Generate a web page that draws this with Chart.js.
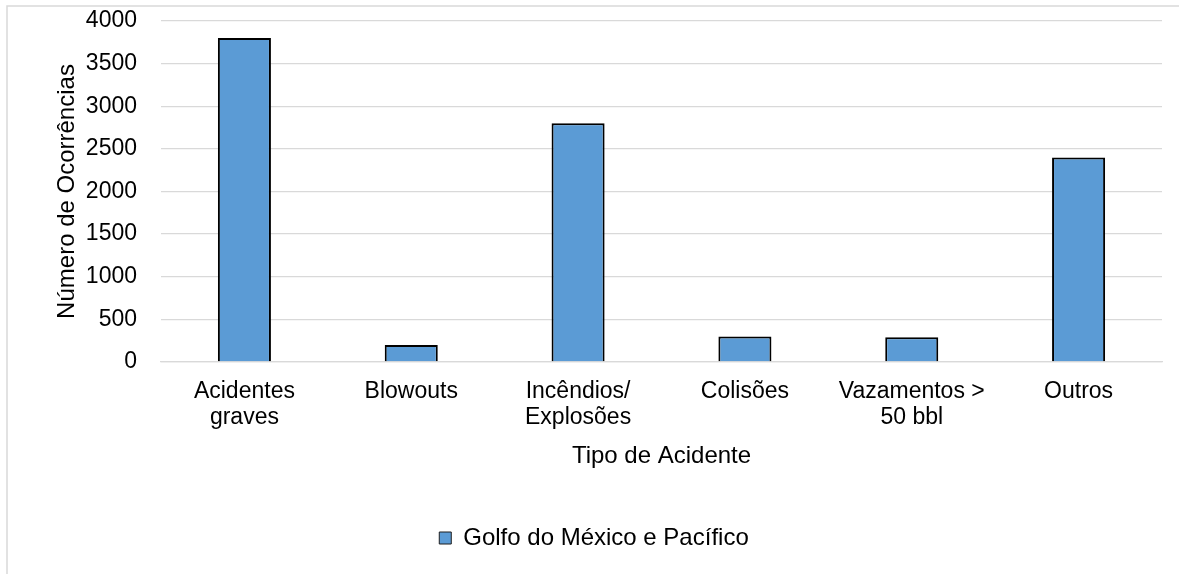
<!DOCTYPE html>
<html>
<head>
<meta charset="utf-8">
<style>
  html, body { margin: 0; padding: 0; background: #ffffff; }
  #wrap { width: 1179px; height: 574px; position: relative; }
</style>
<script src="https://cdn.jsdelivr.net/npm/chart.js@4/dist/chart.umd.min.js"></script>
</head>
<body>
<div id="wrap"><canvas id="chart" width="1179" height="574"></canvas></div>
<script>
// Accident categories (multi-line labels) and occurrence counts
const categories = [
  ["Acidentes", "graves"],
  ["Blowouts"],
  ["Incêndios/", "Explosões"],
  ["Colisões"],
  ["Vazamentos >", "50 bbl"],
  ["Outros"]
];
const seriesName = "Golfo do México e Pacífico";
const occurrences = [3800, 200, 2800, 300, 290, 2400];
const yTicks = [0, 500, 1000, 1500, 2000, 2500, 3000, 3500, 4000];

const FONT = "'Liberation Sans', Arial, sans-serif";
const TEXT = "#000000";
const GRID = "#d9d9d9";

// Thin light frame around the whole chart
const framePlugin = {
  id: "frame",
  beforeDraw(chart) {
    const ctx = chart.ctx;
    ctx.save();
    ctx.fillStyle = "#ffffff";
    ctx.fillRect(0, 0, chart.width, chart.height);
    ctx.strokeStyle = GRID;
    ctx.lineWidth = 1.5;
    ctx.strokeRect(7, 6, chart.width + 20, chart.height + 20);
    ctx.restore();
  }
};

new Chart(document.getElementById("chart"), {
  type: "bar",
  data: {
    labels: categories,
    datasets: [{
      label: seriesName,
      data: occurrences,
      backgroundColor: "#5b9bd5",
      borderColor: "#000000",
      borderWidth: 2,
      borderSkipped: "bottom",
      categoryPercentage: 1.0,
      barPercentage: 0.318
    }]
  },
  options: {
    responsive: false,
    animation: false,
    devicePixelRatio: 1,
    layout: { padding: { left: 26, top: 21, right: 17, bottom: 14 } },
    plugins: {
      legend: {
        position: "bottom",
        labels: {
          font: { family: FONT, size: 24 },
          color: TEXT,
          boxWidth: 12,
          boxHeight: 12,
          padding: 54,
          generateLabels(chart) {
            const ds = chart.data.datasets[0];
            return [{
              text: ds.label,
              fillStyle: ds.backgroundColor,
              strokeStyle: "#1f1f1f",
              lineWidth: 1,
              datasetIndex: 0,
              hidden: false,
              fontColor: TEXT
            }];
          }
        }
      },
      tooltip: { enabled: false }
    },
    scales: {
      x: {
        grid: { display: false, drawTicks: false },
        border: { display: true, color: GRID, width: 1.3 },
        ticks: {
          font: { family: FONT, size: 23, lineHeight: 1.13 },
          color: TEXT,
          padding: 17,
          maxRotation: 0,
          autoSkip: false
        },
        title: {
          display: true,
          text: "Tipo de Acidente",
          font: { family: FONT, size: 24 },
          color: TEXT,
          padding: { top: 8, bottom: 1 }
        },
        afterFit(scale) { scale.height = 110; }
      },
      y: {
        min: 0,
        max: 4000,
        afterBuildTicks(scale) { scale.ticks = yTicks.map(v => ({ value: v })); },
        grid: {
          color: GRID,
          lineWidth: 1.3,
          drawTicks: true,
          tickLength: 24,
          tickColor: "rgba(0,0,0,0)"
        },
        border: { display: false },
        ticks: {
          font: { family: FONT, size: 23 },
          color: TEXT,
          padding: 0,
          callback: (v) => String(v)
        },
        title: {
          display: true,
          text: "Número de Ocorrências",
          font: { family: FONT, size: 24 },
          color: TEXT,
          padding: { top: 27, bottom: 0 }
        },
        afterFit(scale) { scale.width = 135; }
      }
    }
  },
  plugins: [framePlugin]
});
</script>
</body>
</html>
